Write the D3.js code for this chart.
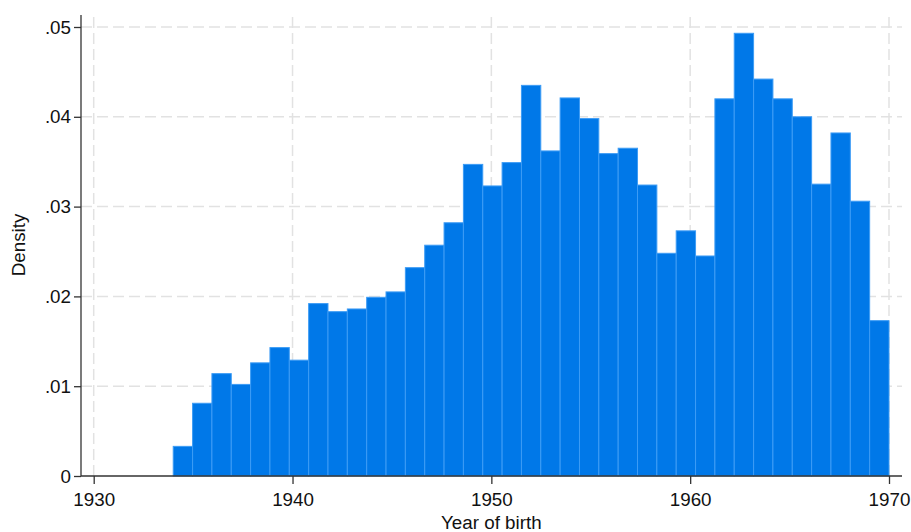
<!DOCTYPE html>
<html>
<head>
<meta charset="utf-8">
<script src="https://cdn.jsdelivr.net/npm/d3@7"></script>
<style>
  body { margin: 0; background: #fff; }
  svg { display: block; font-family: "Liberation Sans", Arial, sans-serif; }
</style>
</head>
<body>
<div id="chart"></div>
<script>
// histogram: 37 bins between 1934 and 1970
const binStart = 1934;
const binEnd = 1970;
const density = [
  0.0033, 0.0081, 0.0114, 0.0102, 0.0126, 0.0143, 0.0129, 0.0192, 0.0183, 0.0186,
  0.0199, 0.0205, 0.0232, 0.0257, 0.0282, 0.0347, 0.0323, 0.0349, 0.0435, 0.0362,
  0.0421, 0.0398, 0.0359, 0.0365, 0.0324, 0.0248, 0.0273, 0.0245, 0.0420, 0.0493,
  0.0442, 0.0420, 0.0400, 0.0325, 0.0382, 0.0306, 0.0173
];
const xTicks = [1930, 1940, 1950, 1960, 1970];
const yTicks = [0, 0.01, 0.02, 0.03, 0.04, 0.05];
const yTickLabels = ["0", ".01", ".02", ".03", ".04", ".05"];

const W = 911, H = 532;
const fontSize = '18.8px';
const binWidth = (binEnd - binStart) / density.length;
const bins = density.map((d, i) => ({
  x0: binStart + i * binWidth,
  x1: binStart + (i + 1) * binWidth,
  y: d
}));

const svg = d3.select('#chart').append('svg')
  .attr('width', W)
  .attr('height', H);

const x = d3.scaleLinear().domain([1930, 1970]).range([93.7, 889]);
const y = d3.scaleLinear().domain([0, 0.05]).range([476, 27]);

const axisLeftX = 81, axisRightX = 902, axisTopY = 15;

// grid lines (dashed, light)
const grid = svg.append('g');
grid.selectAll('line.h')
  .data(yTicks.filter(d => d > 0))
  .join('line')
  .attr('x1', axisLeftX).attr('x2', axisRightX)
  .attr('y1', d => y(d)).attr('y2', d => y(d))
  .attr('stroke', '#e2e2e2').attr('stroke-width', 1.5)
  .attr('stroke-dasharray', '11,5');
grid.selectAll('line.v')
  .data(xTicks)
  .join('line')
  .attr('x1', d => x(d)).attr('x2', d => x(d))
  .attr('y1', 476).attr('y2', 13)
  .attr('stroke', '#e2e2e2').attr('stroke-width', 1.5)
  .attr('stroke-dasharray', '11,5');

// bars
svg.append('g')
  .selectAll('rect')
  .data(bins)
  .join('rect')
  .attr('x', d => x(d.x0))
  .attr('width', d => x(d.x1) - x(d.x0))
  .attr('y', d => y(d.y))
  .attr('height', d => y(0) - y(d.y))
  .attr('fill', '#0078e8')
  .attr('stroke', '#3d9cf5')
  .attr('stroke-width', 1);

// axes
const xAxis = d3.axisBottom(x)
  .tickValues(xTicks)
  .tickFormat(d3.format('d'))
  .tickSizeOuter(0)
  .tickSize(8)
  .tickPadding(9);
const gx = svg.append('g')
  .attr('transform', 'translate(0,476)')
  .call(xAxis);
gx.select('.domain').remove();

const yAxis = d3.axisLeft(y)
  .tickValues(yTicks)
  .tickFormat((d, i) => yTickLabels[i])
  .tickSizeOuter(0)
  .tickSize(7)
  .tickPadding(3);
const gy = svg.append('g')
  .attr('transform', `translate(${axisLeftX},0)`)
  .call(yAxis);
gy.select('.domain').remove();

[gx, gy].forEach(g => {
  g.selectAll('line').attr('stroke', '#333').attr('stroke-width', 1.3);
  g.selectAll('text').attr('fill', '#111').style('font-size', fontSize)
    .style('font-family', '"Liberation Sans", Arial, sans-serif');
});

svg.append('line')
  .attr('x1', axisLeftX).attr('x2', axisRightX)
  .attr('y1', 476).attr('y2', 476)
  .attr('stroke', '#333').attr('stroke-width', 1.3);
svg.append('line')
  .attr('x1', axisLeftX).attr('x2', axisLeftX)
  .attr('y1', axisTopY).attr('y2', 476)
  .attr('stroke', '#333').attr('stroke-width', 1.3);

// axis titles
svg.append('text')
  .attr('x', (x(1930) + x(1970)) / 2)
  .attr('y', 529)
  .attr('text-anchor', 'middle')
  .style('font-size', fontSize)
  .attr('fill', '#111')
  .text('Year of birth');

svg.append('text')
  .attr('transform', `translate(25,245) rotate(-90)`)
  .attr('text-anchor', 'middle')
  .style('font-size', fontSize)
  .attr('fill', '#111')
  .text('Density');
</script>
</body>
</html>
